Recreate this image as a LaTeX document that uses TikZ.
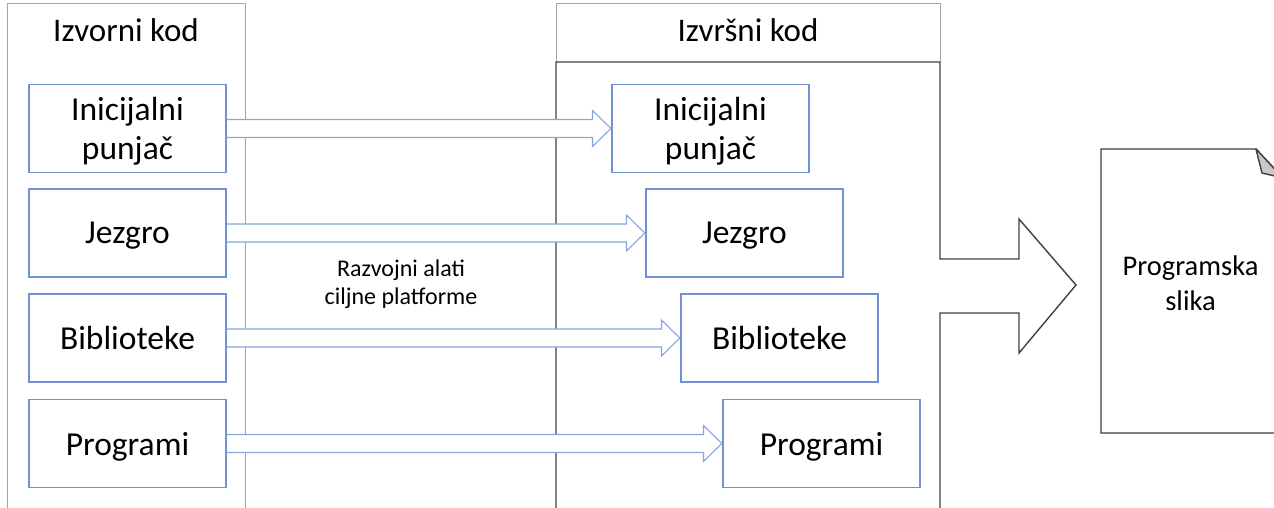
\documentclass[tikz,border=0pt]{standalone}
\usepackage{fontspec}
\setmainfont{Carlito}
\usetikzlibrary{calc}

\definecolor{boxBlue}{RGB}{112,146,212}
\definecolor{arrowBlue}{RGB}{135,165,222}
\definecolor{panelGray}{RGB}{165,165,165}
\definecolor{foldGray}{RGB}{200,200,200}

\begin{document}
\begin{tikzpicture}[x=1pt, y=-1pt]
  \tikzstyle{codeBox} = [draw=boxBlue, line width=1.1pt, fill=white, minimum width=197pt, minimum height=88pt, align=center, inner sep=0pt, text depth=0pt, font=\fontsize{33.5}{39}\selectfont]
  \tikzstyle{title} = [anchor=base, font=\fontsize{33}{39}\selectfont]
  \tikzstyle{toolArrow} = [draw=arrowBlue, line width=1.1pt, fill=white, line join=miter]
  \tikzstyle{panel} = [draw=panelGray, line width=1pt]
  \tikzstyle{imagePanel} = [draw=black!75, line width=1.4pt]

  \useasboundingbox (0,0) rectangle (1274,508);
  \clip (0,0) rectangle (1274,508);

  % Draw panels
  \draw[panel] (7,520) |- (245,4) -- (245,520);
  \draw[panel] (556,62) |- (940,4) -- (940,62);
  \draw[imagePanel] (556,520) |- (940,62) -- (940,259) -- (1019,259) -- (1019,219)
    -- (1076,285) -- (1019,353) -- (1019,313) -- (940,313) -- (940,520);

  % Draw titles
  \node[title] (izvorni) at (126,42) {Izvorni kod};
  \node[title] (izvrsni) at (748,42) {Izvršni kod};

  % Draw code boxes
  \foreach \i/\name/\y/\x in {1/{Inicijalni\\punjač}/128.5/710.5, 2/Jezgro/233/744.5,
                               3/Biblioteke/338/779.5, 4/Programi/443.5/821.5}
    {
    \node[codeBox] (src-\i) at (127.5,\y) {\name};
    \node[codeBox] (dst-\i) at (\x,\y) {\name};
    }

  % Connections
  \foreach \i in {1, ..., 4}
    \draw[toolArrow] ($(src-\i.east)+(0.6,-9)$) -- ($(dst-\i.west)+(-19,-9)$)
      -- ($(dst-\i.west)+(-19,-18)$) -- ($(dst-\i.west)+(-0.6,0)$)
      -- ($(dst-\i.west)+(-19,18)$) -- ($(dst-\i.west)+(-19,9)$) -- ($(src-\i.east)+(0.6,9)$);

  \node[font=\fontsize{24}{28}\selectfont, align=center] (tools) at (401,284) {Razvojni alati\\ciljne platforme};

  % Draw program image
  \draw[imagePanel, fill=white] (1101,433) -- (1101,149) -- (1256,149) -- (1283,178) -- (1283,433) -- cycle;
  \draw[imagePanel, fill=foldGray, line join=round] (1256,149) -- (1262,173) -- (1283,178) -- cycle;
  \node[font=\fontsize{28.5}{35}\selectfont, align=center] (slika) at (1190.5,283) {Programska\\slika};

\end{tikzpicture}
\end{document}
